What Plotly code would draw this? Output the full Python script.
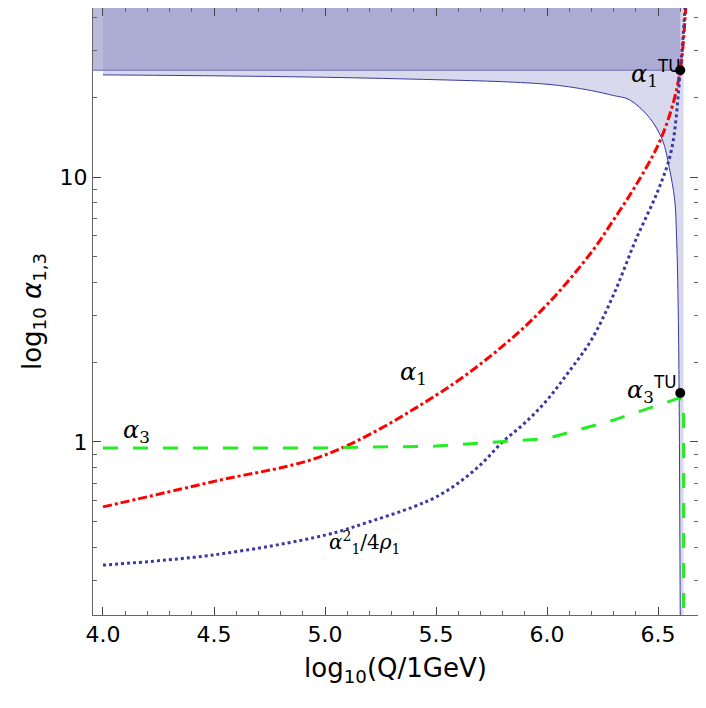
import plotly.graph_objects as go

# curves (log10 Q, alpha)
x_a1 = [4.0, 4.5, 5.0, 5.5, 5.8, 6.0, 6.2, 6.3, 6.4, 6.5, 6.56, 6.6, 6.625]
y_a1 = [0.569, 0.71, 0.893, 1.5, 2.3, 3.3, 5.2, 6.9, 9.3, 13.2, 18.0, 25.3, 44.0]
x_a1sq = [4.0, 4.5, 5.0, 5.2, 5.4, 5.5, 5.6, 5.7, 5.8, 5.9, 6.0, 6.1, 6.2, 6.3, 6.4, 6.5, 6.56, 6.6, 6.622]
y_a1sq = [0.343, 0.375, 0.445, 0.5, 0.57, 0.62, 0.7, 0.82, 1.0, 1.18, 1.44, 1.85, 2.43, 3.6, 5.8, 8.9, 12.6, 25.0, 44.0]
x_a3 = [4.0, 4.5, 5.0, 5.5, 6.0, 6.3, 6.5, 6.59, 6.612, 6.615, 6.615]
y_a3 = [0.95, 0.95, 0.95, 0.965, 1.03, 1.21, 1.38, 1.46, 1.45, 1.2, 0.22]
# lower boundary of the perturbativity band
x_band = [4.0, 4.5, 5.0, 5.5, 5.8, 6.0, 6.1, 6.2, 6.3, 6.37, 6.46, 6.52, 6.55, 6.575, 6.583, 6.59, 6.595, 6.598, 6.6]
y_band = [24.3, 24.1, 23.8, 23.3, 22.9, 22.4, 21.9, 21.2, 20.3, 19.6, 16.8, 13.8, 10.9, 8.2, 6.1, 3.5, 1.5, 0.5, 0.22]
a_tu = 25.3
x_tu = 6.6
a3_tu = 1.53

fig = go.Figure()
# light band: between lower curve and top
fig.add_trace(go.Scatter(x=x_band + [6.615, 6.615, 4.0], y=y_band + [0.22, 60, 60],
                         fill='toself', fillcolor='rgba(170,170,215,0.45)', mode='none',
                         showlegend=False))
fig.add_trace(go.Scatter(x=x_band, y=y_band, mode='lines', line_shape='spline',
                         line=dict(color='#3a3aa0', width=1), showlegend=False))
# dark band above alpha_1^TU
fig.add_trace(go.Scatter(x=[3.9, x_tu, x_tu, 3.9], y=[a_tu, a_tu, 60, 60], fill='toself',
                         fillcolor='rgba(140,140,195,0.6)', mode='none', showlegend=False))
fig.add_trace(go.Scatter(x=[3.9, x_tu], y=[a_tu, a_tu], mode='lines',
                         line=dict(color='#6a6ab0', width=1), showlegend=False))

fig.add_trace(go.Scatter(x=x_a1, y=y_a1, mode='lines', line_shape='spline',
                         line=dict(color='red', width=3, dash='dashdot'), showlegend=False))
fig.add_trace(go.Scatter(x=x_a1sq, y=y_a1sq, mode='lines', line_shape='spline',
                         line=dict(color='#3a3aa0', width=3, dash='dot'), showlegend=False))
fig.add_trace(go.Scatter(x=x_a3, y=y_a3, mode='lines',
                         line=dict(color='#22ee22', width=3, dash='longdash'), showlegend=False))
fig.add_trace(go.Scatter(x=[x_tu, x_tu], y=[a_tu, a3_tu], mode='markers',
                         marker=dict(color='black', size=10), showlegend=False))

tf = dict(family='DejaVu Serif', size=24, color='black')
fig.add_annotation(x=5.4, y=0.26, text='<i>α</i><sub>1</sub>', showarrow=False, font=tf)
fig.add_annotation(x=4.15, y=0.04, text='<i>α</i><sub>3</sub>', showarrow=False, font=tf)
fig.add_annotation(x=5.18, y=-0.38, text='<i>α</i><sup>2</sup><sub>1</sub>/4<i>ρ</i><sub>1</sub>',
                   showarrow=False, font=dict(family='DejaVu Serif', size=20, color='black'))
fig.add_annotation(x=6.49, y=1.39, text='<i>α</i><sub>1</sub><sup><span style="font-family:DejaVu Sans">TU</span></sup>',
                   showarrow=False, font=tf)
fig.add_annotation(x=6.47, y=0.2, text='<i>α</i><sub>3</sub><sup><span style="font-family:DejaVu Sans">TU</span></sup>',
                   showarrow=False, font=tf)

fig.update_layout(
    width=706, height=708, margin=dict(l=85, r=16, t=0, b=101),
    paper_bgcolor='white', plot_bgcolor='white',
    font=dict(family='DejaVu Sans', size=22, color='black'),
    xaxis=dict(range=[3.955, 6.68], tickvals=[4.0, 4.5, 5.0, 5.5, 6.0, 6.5],
               ticktext=['4.0', '4.5', '5.0', '5.5', '6.0', '6.5'],
               ticks='inside', ticklen=8, mirror='allticks', showline=True,
               linecolor='#666', showgrid=False, zeroline=False,
               minor=dict(dtick=0.1, ticks='inside', ticklen=4, tickcolor='#666'),
               title=dict(text='log<sub>10</sub>(Q/1GeV)', standoff=12)),
    yaxis=dict(type='log', range=[-0.653, 1.638], tickvals=[1, 10], ticktext=['1', '10'],
               ticks='inside', ticklen=8, mirror='allticks', showline=True,
               linecolor='#666', showgrid=False, zeroline=False,
               minor=dict(ticks='inside', ticklen=4, tickcolor='#666', dtick='D1'),
               title=dict(text='log<sub>10</sub> <i>α</i><sub>1,3</sub>', standoff=10)),
)
fig.write_html("out.html")
